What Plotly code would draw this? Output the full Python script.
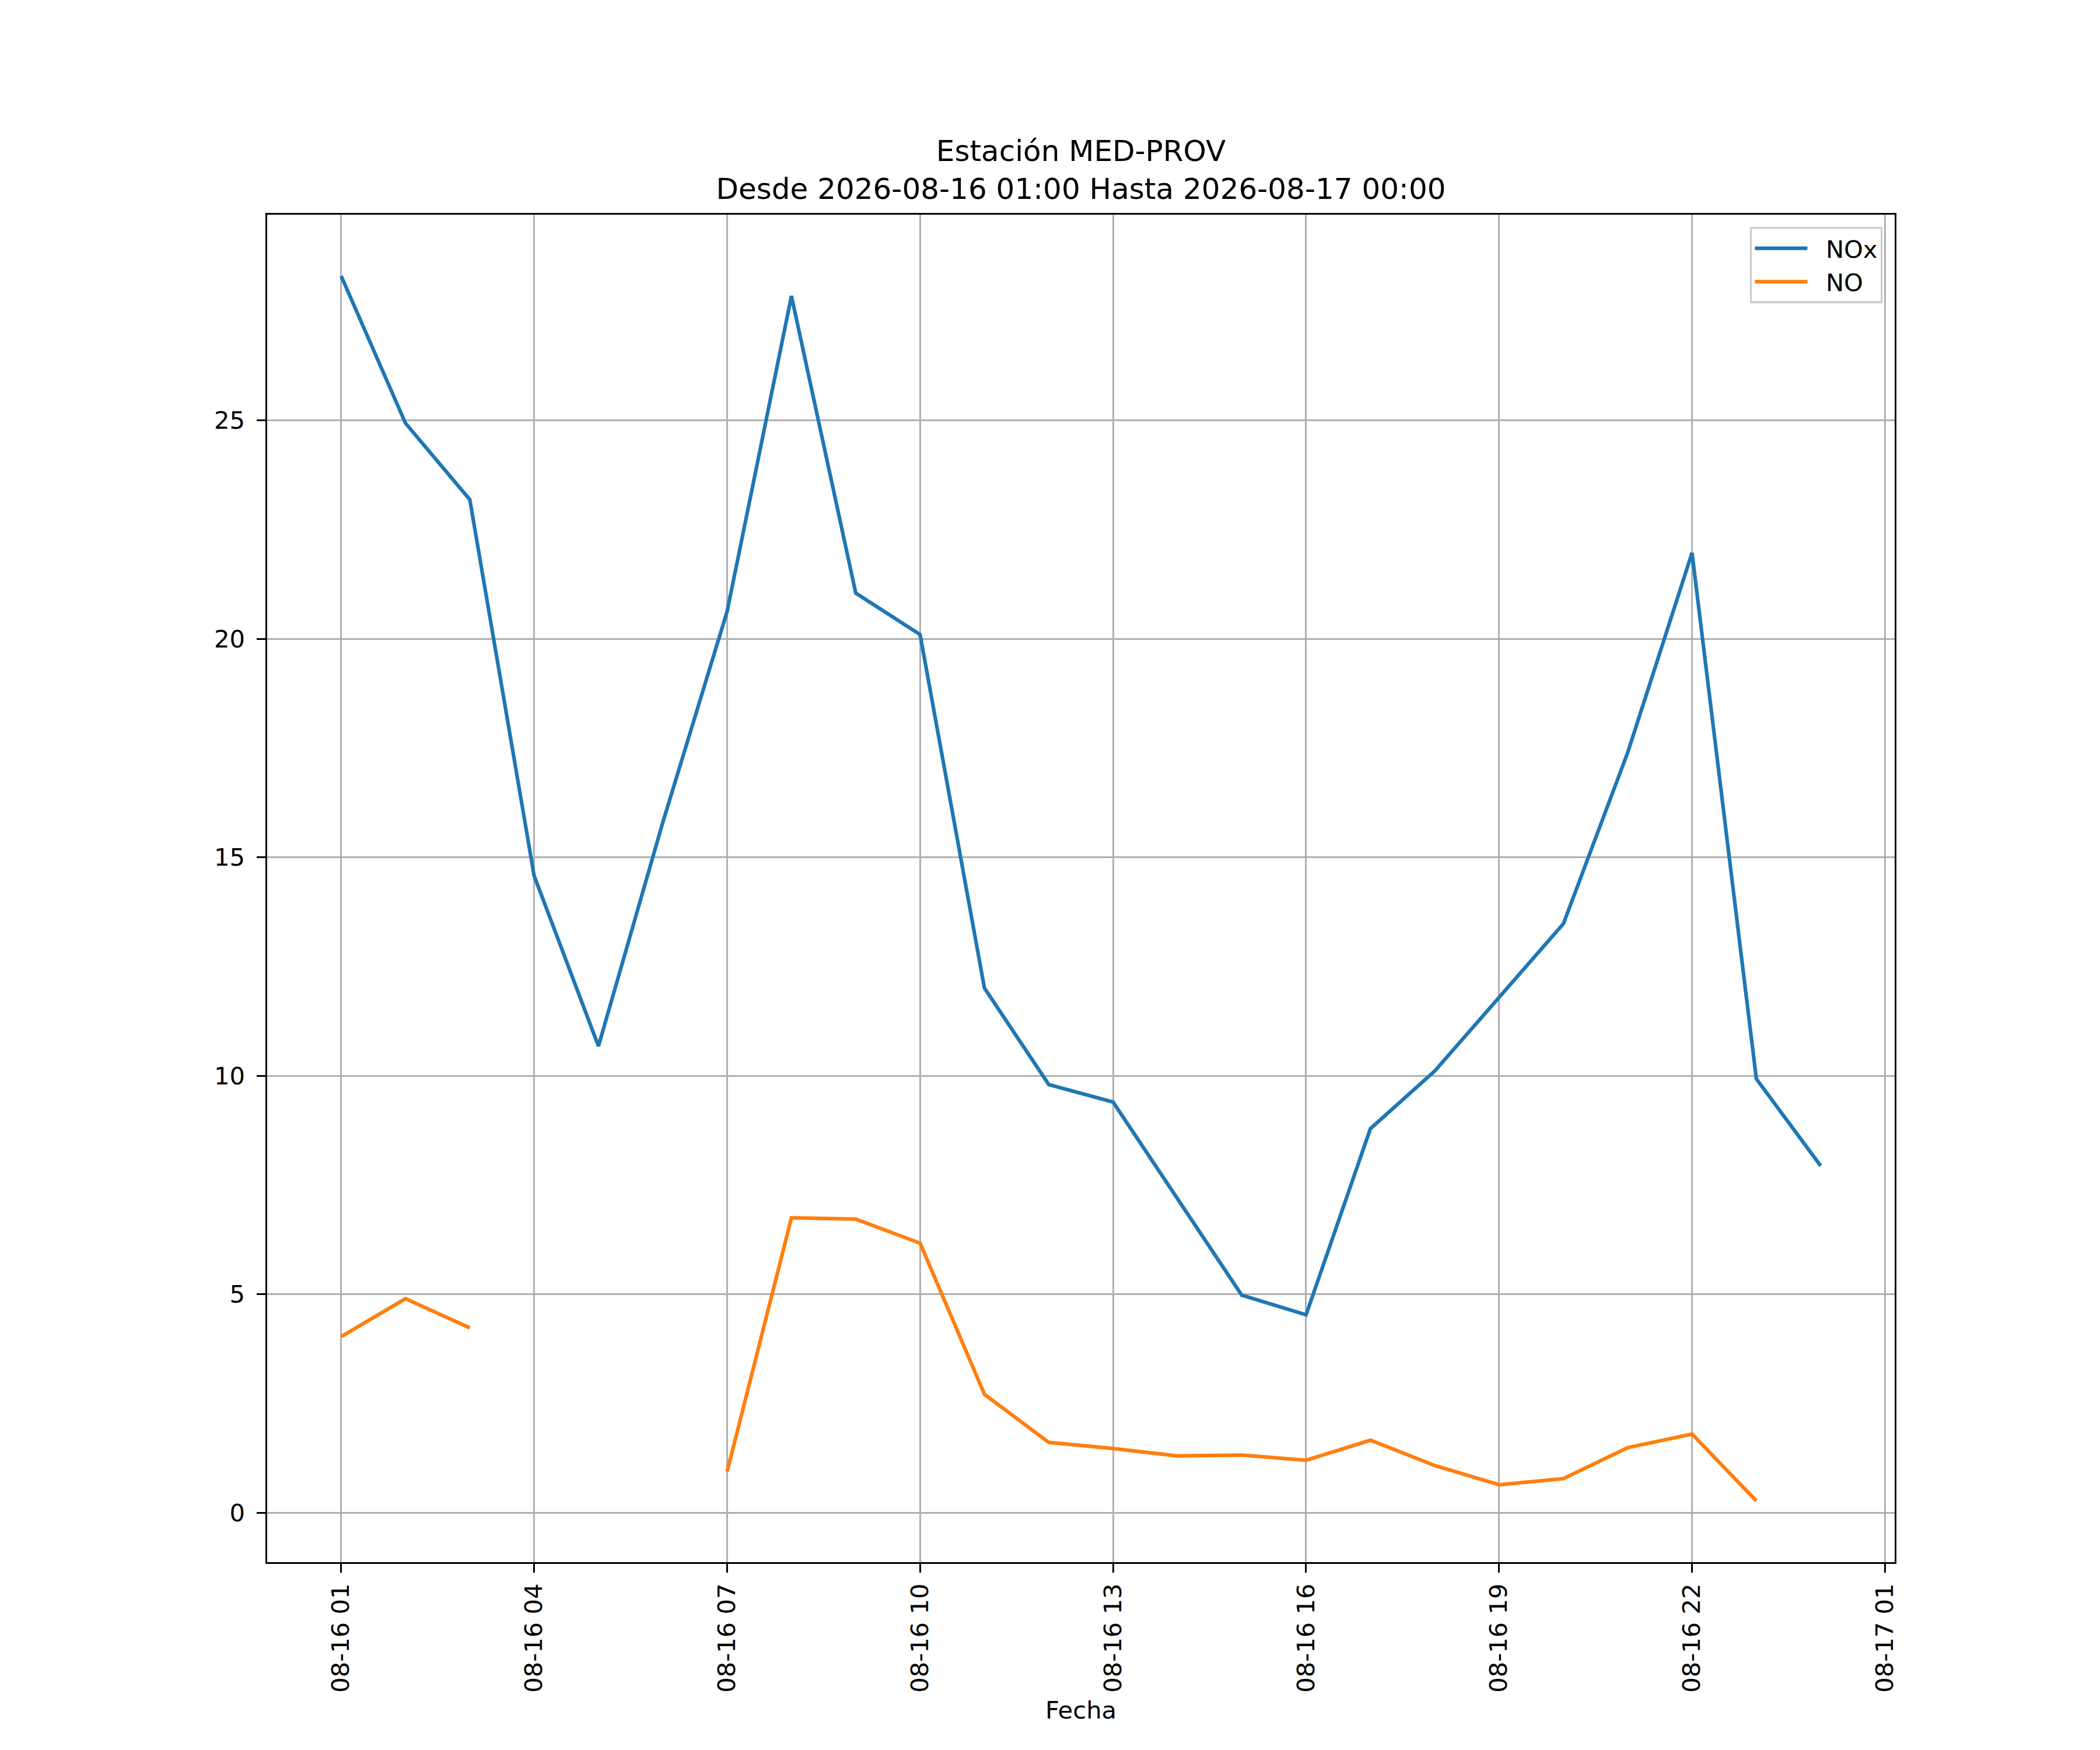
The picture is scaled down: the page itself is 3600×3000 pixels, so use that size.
import pandas as pd
import plotly.graph_objects as go

# hourly values for station MED-PROV, 2026-08-16 01:00 -> 2026-08-17 00:00
fechas = pd.date_range("2026-08-16 01:00", "2026-08-17 00:00", freq="h")
nox = [28.31, 24.94, 23.19, 14.58, 10.68, 15.8, 20.63, 27.85, 21.05, 20.10,
       12.01, 9.80, 9.40, 7.20, 4.98, 4.53, 8.79, 10.11, 11.80, 13.48,
       17.40, 21.97, 9.93, 7.94]
no = [4.03, 4.90, 4.23, None, None, None, 0.94, 6.75, 6.72, 6.17,
      2.71, 1.61, 1.47, 1.30, 1.32, 1.20, 1.66, 1.08, 0.64, 0.78,
      1.49, 1.80, 0.27, None]

titulo = "Estación MED-PROV<br>Desde 2026-08-16 01:00 Hasta 2026-08-17 00:00"

# matplotlib-like sizes at 300 dpi
pt = 300 / 72
fs = 10 * pt
sp = "\u00a0\u00a0"  # extra gap between legend line and text

fig = go.Figure()
fig.add_trace(go.Scatter(x=fechas, y=nox, mode="lines", name=sp + "NOx",
                         line=dict(color="#1f77b4", width=1.5 * pt)))
fig.add_trace(go.Scatter(x=fechas, y=no, mode="lines", name=sp + "NO",
                         line=dict(color="#ff7f0e", width=1.5 * pt)))

# autoscale with 5% margins like matplotlib
vals = [v for v in nox + no if v is not None]
ymin, ymax = min(vals), max(vals)
ypad = (ymax - ymin) * 0.05
xpad = (fechas[-1] - fechas[0]) * 0.05

eje = dict(showline=True, mirror=True, linecolor="black", linewidth=0.8 * pt,
           ticks="outside", ticklen=3.5 * pt, tickwidth=0.8 * pt, tickcolor="black",
           showgrid=True, gridcolor="#b0b0b0", gridwidth=0.8 * pt,
           zeroline=False, tickfont=dict(size=fs, color="black"))

fig.update_xaxes(**eje, range=[fechas[0] - xpad, fechas[-1] + xpad],
                 tick0="2026-08-16 01:00", dtick=3 * 3600 * 1000,
                 tickformat="%m-%d %H", tickangle=-90, ticklabelstandoff=2,
                 title=dict(text="Fecha", font=dict(size=fs, color="black"), standoff=17))
fig.update_yaxes(**eje, range=[ymin - ypad, ymax + ypad], dtick=5,
                 ticklabelstandoff=12)

fig.update_layout(
    width=3600, height=3000,
    margin=dict(l=450, r=360, t=360, b=330),
    paper_bgcolor="white", plot_bgcolor="white",
    font=dict(family="DejaVu Sans", size=fs, color="black"),
    title=dict(text=titulo, x=0.5, xref="paper", xanchor="center",
               y=1, yref="paper", yanchor="bottom", pad=dict(b=92),
               font=dict(size=12 * pt, color="black")),
    legend=dict(x=0.9925, y=0.991, xanchor="right", yanchor="top",
                bgcolor="rgba(255,255,255,0.8)", bordercolor="#cccccc",
                borderwidth=0.8 * pt, font=dict(size=fs), itemwidth=90),
    showlegend=True,
)

fig.write_html("out.html")
